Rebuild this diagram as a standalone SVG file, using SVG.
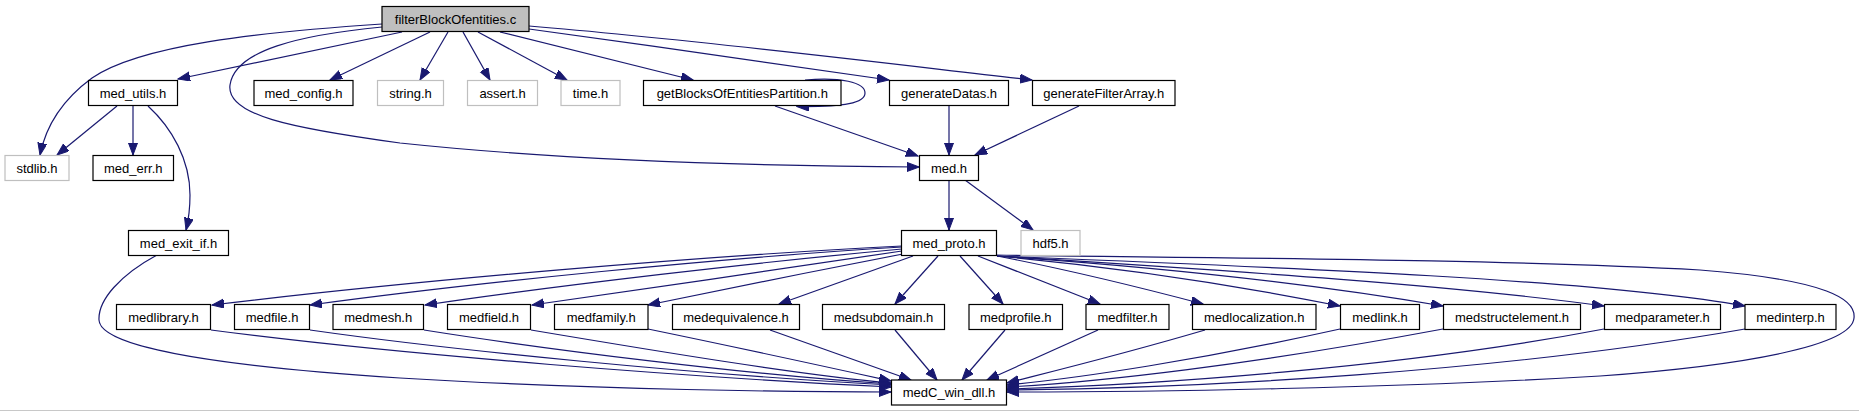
<svg xmlns="http://www.w3.org/2000/svg" width="1859" height="411" viewBox="0 0 1859 411">
<style>
.n rect{fill:#fff;stroke:#000;stroke-width:1.2}
.n.g rect{stroke:#bfbfbf}
.n.r rect{fill:#bfbfbf}
.n text{font-family:"Liberation Sans",Arial,sans-serif;font-size:13px;text-anchor:middle;fill:#000}
#edges path{fill:none;stroke:#191970;stroke-width:1.2;marker-end:url(#a)}
</style>
<defs>
<marker id="a" markerUnits="userSpaceOnUse" markerWidth="13" markerHeight="10" refX="12" refY="4.5" orient="auto">
<path d="M0,0 L12,4.5 L0,9 z" fill="#191970" stroke="#191970" stroke-width="1"/>
</marker>
</defs>
<rect width="1859" height="411" fill="#fff"/>
<g id="edges">
<path d="M382,24 C260,32 140,45 92,78 C62,100 46,125 40,155"/>
<path d="M402,32 L178,79"/>
<path d="M430,32 L330,80"/>
<path d="M448,32 L420,80"/>
<path d="M463,32 L490,80"/>
<path d="M478,32 L567,80"/>
<path d="M500,32 L693,80"/>
<path d="M529,29 C650,45 800,68 889,80"/>
<path d="M529,26 C700,40 900,65 1032,80"/>
<path d="M382,27 C300,35 235,50 230,85 C226,115 290,128 400,143 C560,160 760,166 919,167"/>
<path d="M117,106 L57,155"/>
<path d="M133,106 L133,155"/>
<path d="M148,106 C172,128 190,160 190,195 C190,212 188,222 186,230"/>
<path d="M805,80 C840,77 865,82 865,93 C865,103 845,107 797,106.5"/>
<path d="M775,106 L918,156"/>
<path d="M949,106 L949,155"/>
<path d="M1079,106 L975,155"/>
<path d="M949,180 L949,230"/>
<path d="M965,180 L1033,230"/>
<path d="M157,255 C120,275 98,300 99,320 C100,345 200,365 400,378 C600,390 800,392 891,392"/>
<path d="M902,246 C700,256 420,280 212,305"/>
<path d="M902,247 C720,258 480,282 310,305"/>
<path d="M902,249 C760,262 560,285 425,305"/>
<path d="M902,251 C800,266 640,290 532,305"/>
<path d="M903,254 C820,270 720,290 648,305"/>
<path d="M913,256 L779,304"/>
<path d="M938,256 L895,304"/>
<path d="M960,256 L1003,304"/>
<path d="M978,256 L1100,304"/>
<path d="M997,256 C1080,272 1150,290 1203,304"/>
<path d="M997,256 C1150,270 1260,290 1340,306"/>
<path d="M997,256 C1200,270 1350,290 1443,306"/>
<path d="M997,256 C1250,272 1450,285 1604,306"/>
<path d="M997,256 C1300,268 1600,280 1745,306"/>
<path d="M996,255 C1200,258 1500,259 1700,270 C1830,280 1856,300 1854,318 C1852,345 1750,365 1600,376 C1400,388 1150,392 1007,392"/>
<path d="M211,330 C400,355 700,378 891,387"/>
<path d="M310,330 C450,350 700,375 891,385"/>
<path d="M424,330 C550,350 750,375 891,384"/>
<path d="M531,330 C650,350 800,375 891,383"/>
<path d="M648,329 C750,350 850,372 891,381"/>
<path d="M770,330 L911,380"/>
<path d="M895,330 L937,380"/>
<path d="M1005,330 L962,380"/>
<path d="M1098,330 L987,380"/>
<path d="M1205,330 C1120,355 1050,372 1007,383"/>
<path d="M1340,329 C1200,360 1080,378 1007,385"/>
<path d="M1443,329 C1250,365 1100,382 1007,387"/>
<path d="M1604,329 C1400,368 1150,385 1007,389"/>
<path d="M1745,329 C1500,372 1200,388 1007,390"/>
</g>
<g id="n_root" class="n r"><rect x="382" y="6.5" width="147" height="25"/><text x="455.5" y="23.5">filterBlockOfentities.c</text></g>
<g id="n_med_utils" class="n"><rect x="88.5" y="80.5" width="89" height="25"/><text x="133" y="97.5">med_utils.h</text></g>
<g id="n_med_config" class="n"><rect x="254" y="80.5" width="99" height="25"/><text x="303.5" y="97.5">med_config.h</text></g>
<g id="n_string" class="n g"><rect x="377.5" y="80.5" width="66" height="25"/><text x="410.5" y="97.5">string.h</text></g>
<g id="n_assert" class="n g"><rect x="467.5" y="80.5" width="70" height="25"/><text x="502.5" y="97.5">assert.h</text></g>
<g id="n_time" class="n g"><rect x="561" y="80.5" width="59" height="25"/><text x="590.5" y="97.5">time.h</text></g>
<g id="n_getBlocks" class="n"><rect x="643.5" y="80.5" width="197.5" height="25"/><text x="742.25" y="97.5">getBlocksOfEntitiesPartition.h</text></g>
<g id="n_generateDatas" class="n"><rect x="889.5" y="80.5" width="119" height="25"/><text x="949" y="97.5">generateDatas.h</text></g>
<g id="n_generateFilterArray" class="n"><rect x="1032.5" y="80.5" width="142.5" height="25"/><text x="1103.75" y="97.5">generateFilterArray.h</text></g>
<g id="n_stdlib" class="n g"><rect x="5" y="155.5" width="64" height="25"/><text x="37" y="172.5">stdlib.h</text></g>
<g id="n_med_err" class="n"><rect x="93" y="155.5" width="80.5" height="25"/><text x="133.25" y="172.5">med_err.h</text></g>
<g id="n_med" class="n"><rect x="919.5" y="155.5" width="59" height="25"/><text x="949" y="172.5">med.h</text></g>
<g id="n_med_exit_if" class="n"><rect x="128.5" y="230.5" width="100" height="25"/><text x="178.5" y="247.5">med_exit_if.h</text></g>
<g id="n_med_proto" class="n"><rect x="901.5" y="230.5" width="95" height="25"/><text x="949" y="247.5">med_proto.h</text></g>
<g id="n_hdf5" class="n g"><rect x="1021" y="230.5" width="59" height="25"/><text x="1050.5" y="247.5">hdf5.h</text></g>
<g id="n_medlibrary" class="n"><rect x="116.5" y="304.5" width="94" height="25"/><text x="163.5" y="321.5">medlibrary.h</text></g>
<g id="n_medfile" class="n"><rect x="234.5" y="304.5" width="75" height="25"/><text x="272" y="321.5">medfile.h</text></g>
<g id="n_medmesh" class="n"><rect x="333" y="304.5" width="90.5" height="25"/><text x="378.25" y="321.5">medmesh.h</text></g>
<g id="n_medfield" class="n"><rect x="447.5" y="304.5" width="83" height="25"/><text x="489" y="321.5">medfield.h</text></g>
<g id="n_medfamily" class="n"><rect x="554.5" y="304.5" width="93.5" height="25"/><text x="601.25" y="321.5">medfamily.h</text></g>
<g id="n_medequivalence" class="n"><rect x="672.5" y="304.5" width="127" height="25"/><text x="736" y="321.5">medequivalence.h</text></g>
<g id="n_medsubdomain" class="n"><rect x="822.5" y="304.5" width="122" height="25"/><text x="883.5" y="321.5">medsubdomain.h</text></g>
<g id="n_medprofile" class="n"><rect x="969" y="304.5" width="93.5" height="25"/><text x="1015.75" y="321.5">medprofile.h</text></g>
<g id="n_medfilter" class="n"><rect x="1086" y="304.5" width="83" height="25"/><text x="1127.5" y="321.5">medfilter.h</text></g>
<g id="n_medlocalization" class="n"><rect x="1192.5" y="304.5" width="123.5" height="25"/><text x="1254.25" y="321.5">medlocalization.h</text></g>
<g id="n_medlink" class="n"><rect x="1340.5" y="304.5" width="79" height="25"/><text x="1380" y="321.5">medlink.h</text></g>
<g id="n_medstructelement" class="n"><rect x="1443.5" y="304.5" width="137" height="25"/><text x="1512" y="321.5">medstructelement.h</text></g>
<g id="n_medparameter" class="n"><rect x="1604.5" y="304.5" width="116" height="25"/><text x="1662.5" y="321.5">medparameter.h</text></g>
<g id="n_medinterp" class="n"><rect x="1745" y="304.5" width="91" height="25"/><text x="1790.5" y="321.5">medinterp.h</text></g>
<g id="n_medC_win_dll" class="n"><rect x="891.5" y="380" width="115" height="25"/><text x="949" y="397">medC_win_dll.h</text></g>
<line x1="0" y1="410.5" x2="1859" y2="410.5" stroke="#c8c8c8" stroke-width="1"/>
</svg>
